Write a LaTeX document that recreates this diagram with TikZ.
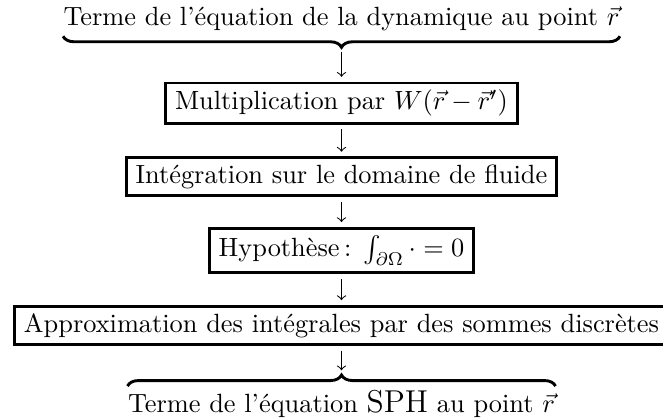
\documentclass[tikz,border=0pt]{standalone}
\usetikzlibrary{positioning,decorations.pathreplacing}

\begin{document}
\begin{tikzpicture}[>=to,thin,
    box/.style={draw,line width=1.1pt,inner xsep=3.6pt,inner ysep=2.6pt},
    txt/.style={inner sep=0pt},
    brace/.style={decorate,decoration={brace,amplitude=4.2pt},line width=1.1pt}]
    \useasboundingbox (-129.6pt,9.5pt) rectangle (122pt,-149.5pt);

    \node[txt,anchor=base] (1) at (0,0) {Terme de l'équation de la dynamique au point $\vec{r}$};

    \node[box] (2) [below=19.2pt of 1] {Multiplication par $W(\vec{r}-\vec{r}')$};
    \node[box] (3) [below=12.1pt of 2] {Intégration sur le domaine de fluide};
    \node[box] (4) [below=11.3pt of 3] {Hypothèse\,: $\int_{\partial\Omega}\cdot=0$~};
    \node[box] (5) [below=11.7pt of 4] {Approximation des intégrales par des sommes discrètes};

    \node[txt,text height=8.2pt,text depth=1.9pt] (6) [below=16.8pt of 5] {Terme de l'équation {\large SPH} au point $\vec{r}$};

    \draw[brace] ([yshift=1.5pt]6.north west) -- ([yshift=1.5pt]6.north east);
    \draw[brace] ([yshift=-2pt]1.south east) -- ([yshift=-2pt]1.south west);
    \coordinate (b1) at ([yshift=-6.2pt]1.south);
    \coordinate (b6) at ([yshift=5.7pt]6.north);

    \path[->,shorten <=1.8pt,shorten >=1.8pt]
        (b1) edge (2)
        (2) edge (3)
        (3) edge (4)
        (4) edge (5)
        (5) edge (b6)
        ;
\end{tikzpicture}
\end{document}
